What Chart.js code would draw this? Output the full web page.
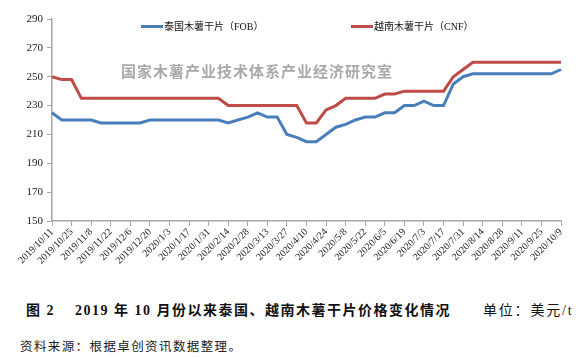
<!DOCTYPE html>
<html>
<head>
<meta charset="utf-8">
<script src="https://cdn.jsdelivr.net/npm/chart.js@4/dist/chart.umd.min.js"></script>
<style>
  html, body { margin: 0; padding: 0; background: #fff; }
  #wrap { position: relative; width: 585px; height: 359px; overflow: hidden;
          font-family: "Liberation Serif", "Noto Sans CJK SC", serif; color: #111; }
  #chart { position: absolute; left: 0; top: 0; }
  .abs { position: absolute; white-space: nowrap; }
  .leg { font-size: 10px; top: 20px; line-height: 14px; }
  .leg i { display: inline-block; width: 22px; height: 3px; vertical-align: middle;
           margin-right: 1px; position: relative; top: -1px; }
  #mark { left: 121px; top: 60px; font-size: 15px; letter-spacing: 1px; font-weight: bold;
          color: #a9a9a9; font-family: "Noto Sans CJK SC", sans-serif; }
  #cap { left: 26px; top: 299px; font-size: 14px; font-weight: bold; letter-spacing: 1.5px; }
  #unit { left: 483px; top: 299px; font-size: 14px; letter-spacing: 1.8px; }
  #src { left: 20px; top: 336px; font-size: 12.5px; letter-spacing: 1.4px; color: #222; }
</style>
</head>
<body>
<div id="wrap">
  <canvas id="chart" width="585" height="275"></canvas>
  <div class="abs leg" style="left:141px"><i style="background:#4a7ebb"></i>泰国木薯干片（FOB）</div>
  <div class="abs leg" style="left:351px"><i style="background:#be4b48"></i>越南木薯干片（CNF）</div>
  <div class="abs" id="mark">国家木薯产业技术体系产业经济研究室</div>
  <div class="abs" id="cap">图 2&nbsp;&nbsp;&nbsp;&nbsp;2019 年 10 月份以来泰国、越南木薯干片价格变化情况</div>
  <div class="abs" id="unit">单位：美元/t</div>
  <div class="abs" id="src">资料来源：根据卓创资讯数据整理。</div>
</div>
<script>
// weekly dates, every other one is labelled on the axis
var weeks = [
  '2019/10/11', '2019/10/18', '2019/10/25', '2019/11/1', '2019/11/8', '2019/11/15',
  '2019/11/22', '2019/11/29', '2019/12/6', '2019/12/13', '2019/12/20', '2019/12/27',
  '2020/1/3', '2020/1/10', '2020/1/17', '2020/1/24', '2020/1/31', '2020/2/7',
  '2020/2/14', '2020/2/21', '2020/2/28', '2020/3/6', '2020/3/13', '2020/3/20',
  '2020/3/27', '2020/4/3', '2020/4/10', '2020/4/17', '2020/4/24', '2020/5/1',
  '2020/5/8', '2020/5/15', '2020/5/22', '2020/5/29', '2020/6/5', '2020/6/12',
  '2020/6/19', '2020/6/26', '2020/7/3', '2020/7/10', '2020/7/17', '2020/7/24',
  '2020/7/31', '2020/8/7', '2020/8/14', '2020/8/21', '2020/8/28', '2020/9/4',
  '2020/9/11', '2020/9/18', '2020/9/25', '2020/10/2', '2020/10/9'
];

// 泰国木薯干片 (FOB), USD/t
var thaiFob = [
  225, 220, 220, 220, 220, 218, 218, 218, 218, 218, 220, 220,
  220, 220, 220, 220, 220, 220, 218, 220, 222, 225, 222, 222,
  210, 208, 205, 205, 210, 215, 217, 220, 222, 222, 225, 225,
  230, 230, 233, 230, 230, 245, 250, 252, 252, 252, 252, 252,
  252, 252, 252, 252, 255
];

// 越南木薯干片 (CNF), USD/t
var vietCnf = [
  250, 248, 248, 235, 235, 235, 235, 235, 235, 235, 235, 235,
  235, 235, 235, 235, 235, 235, 230, 230, 230, 230, 230, 230,
  230, 230, 218, 218, 227, 230, 235, 235, 235, 235, 238, 238,
  240, 240, 240, 240, 240, 250, 255, 260, 260, 260, 260, 260,
  260, 260, 260, 260, 260
];

var yTicks = [150, 170, 190, 210, 230, 250, 270, 290];

var axisGray = '#a6a6a6';
var tickFont = { family: '"Liberation Serif", "Times New Roman", serif' };

new Chart(document.getElementById('chart'), {
  type: 'line',
  data: {
    labels: weeks,
    datasets: [
      { label: '泰国木薯干片（FOB）', data: thaiFob, borderColor: '#4a7ebb',
        borderWidth: 3, pointRadius: 0, tension: 0, fill: false },
      { label: '越南木薯干片（CNF）', data: vietCnf, borderColor: '#be4b48',
        borderWidth: 3, pointRadius: 0, tension: 0, fill: false }
    ]
  },
  options: {
    responsive: false,
    animation: false,
    layout: { padding: { left: 0, right: 24, top: 19, bottom: 0 } },
    plugins: { legend: { display: false }, tooltip: { enabled: false } },
    scales: {
      x: {
        offset: false,
        afterFit: function(s) { s.height = 54; },
        border: { color: axisGray, width: 1.5 },
        grid: {
          drawOnChartArea: false, tickLength: 5, lineWidth: 1,
          color: function(c) { return c.index % 2 === 0 ? axisGray : 'rgba(0,0,0,0)'; }
        },
        ticks: {
          autoSkip: false, maxRotation: 45, minRotation: 45, padding: 0,
          color: '#222', font: Object.assign({ size: 10 }, tickFont),
          callback: function(v, i) { return i % 2 === 0 ? weeks[i] : ''; }
        }
      },
      y: {
        min: yTicks[0], max: yTicks[yTicks.length - 1],
        afterFit: function(s) { s.width = 52; },
        afterBuildTicks: function(s) { s.ticks = yTicks.map(function(v) { return { value: v }; }); },
        border: { color: axisGray, width: 1.5 },
        grid: { drawOnChartArea: false, tickLength: 5, color: axisGray },
        ticks: { padding: 4, color: '#222', font: Object.assign({ size: 11 }, tickFont) }
      }
    }
  }
});
</script>
</body>
</html>
